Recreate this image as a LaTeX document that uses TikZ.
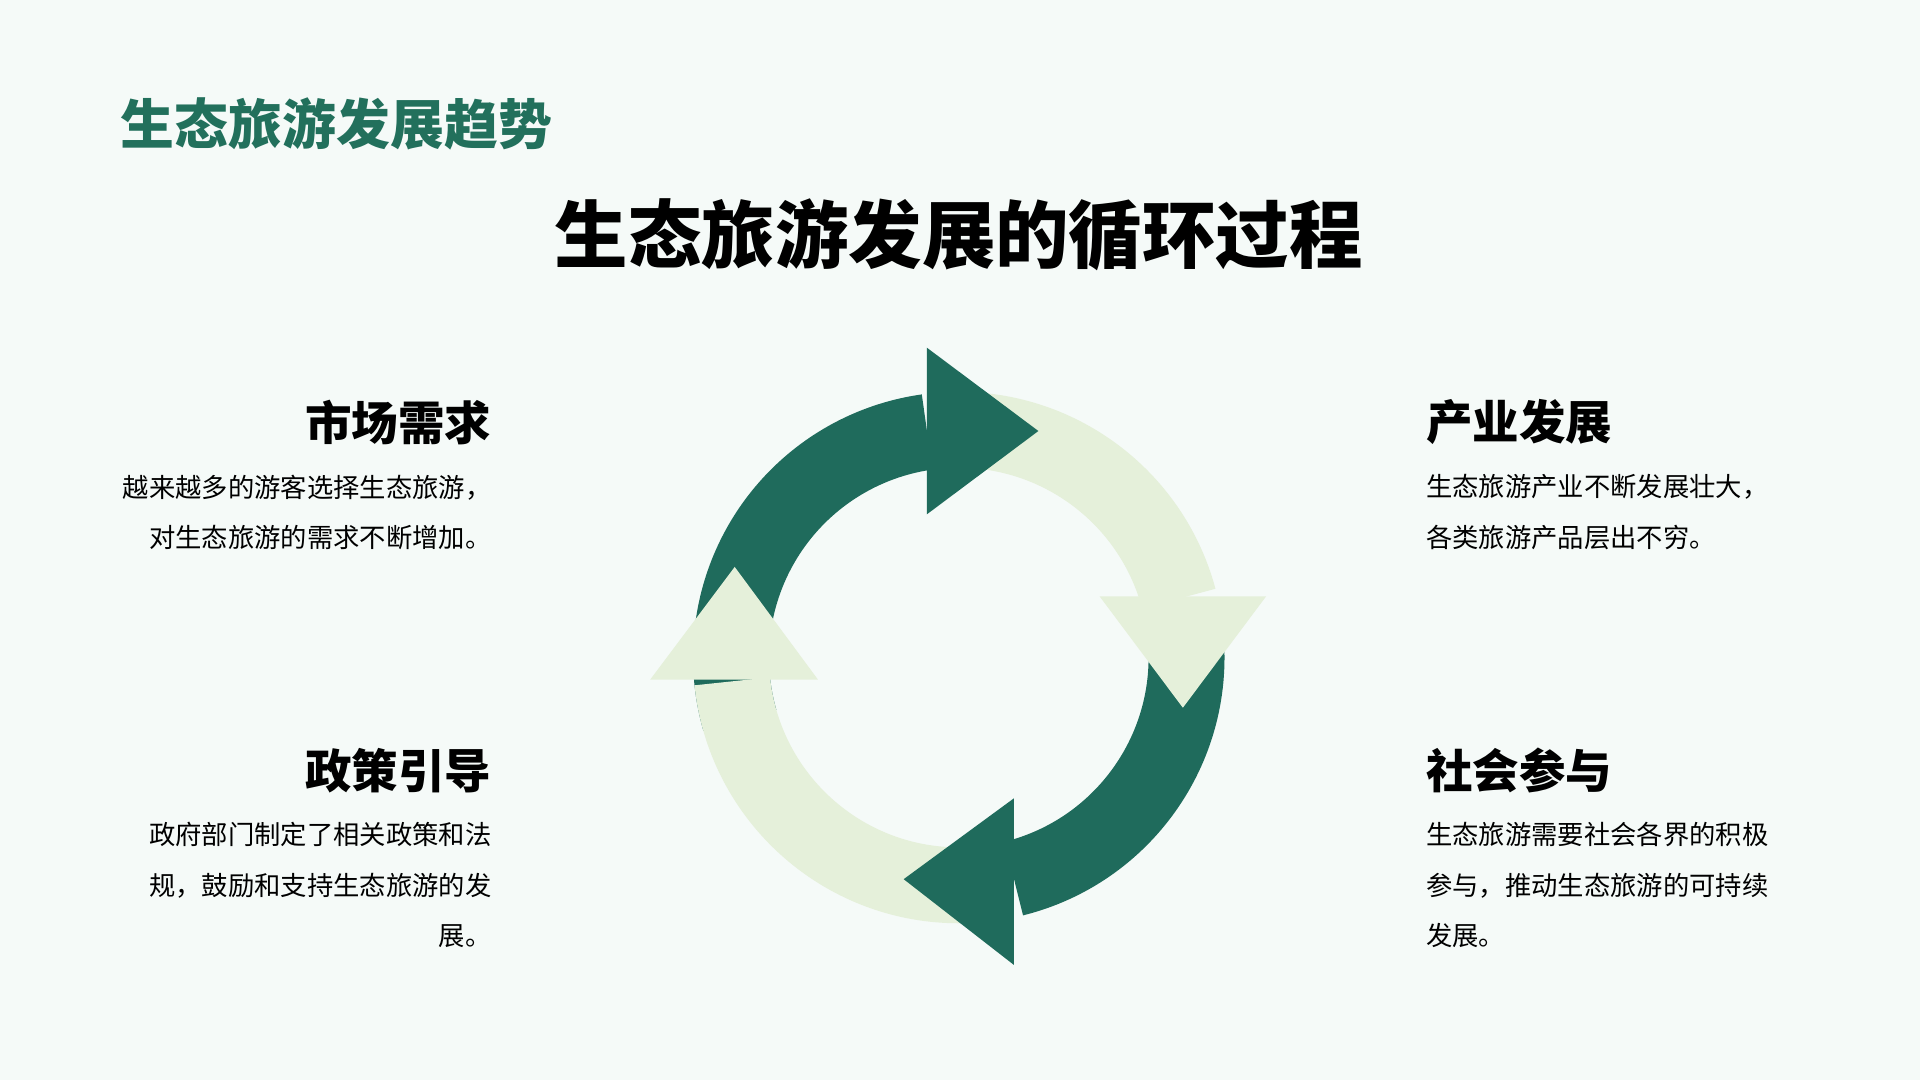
\documentclass[tikz,border=0pt]{standalone}
\usepackage{fontspec}
\setmainfont{Noto Sans CJK SC}
\usetikzlibrary{calc}
\definecolor{ecodark}{RGB}{31,107,92}
\definecolor{ecolight}{RGB}{229,240,218}
\definecolor{ecobg}{RGB}{245,250,248}
\definecolor{ecotitle}{RGB}{34,112,92}
\tikzset{every picture/.style={line width=0.75pt}}
\tikzset{
  headtxt/.style={font=\fontsize{38}{44}\selectfont\bfseries},
  bodytxt/.style={font=\fontsize{21.5}{41}\selectfont},
}
\begin{document}
\begin{tikzpicture}[x=1pt,y=1pt]
\useasboundingbox (0,0) rectangle (1568,882);
\fill[ecobg] (0,0) rectangle (1568,882);
\coordinate (c) at (783,345);

%titles
\node[anchor=west,text=ecotitle,font=\fontsize{44}{50}\selectfont\bfseries] (title) at (95,781) {生态旅游发展趋势};
\node[font=\fontsize{60}{66}\selectfont\bfseries] (main) at (783,690) {生态旅游发展的循环过程};

%arc bodies
\fill[ecodark] ($(c)+(196:217)$) arc (196:98:217) -- ($(c)+(98:155)$) arc (98:196:155) -- cycle;
\fill[ecodark] ($(c)+(5:217)$) arc (5:-76:217) -- ($(c)+(-76:155)$) arc (-76:5:155) -- cycle;
\fill[ecolight] ($(c)+(92:217)$) arc (92:15:217) -- ($(c)+(15:155)$) arc (15:92:155) -- cycle;
\fill[ecolight] ($(c)+(272:217)$) arc (272:186:217) -- ($(c)+(186:155)$) arc (186:272:155) -- cycle;

%arrow heads
\fill[ecolight] (898,395) -- (1034,395) -- (966,304) -- cycle;
\fill[ecolight] (531,327) -- (668,327) -- (600,419) -- cycle;
\fill[ecodark] (757,598) -- (757,462) -- (848,530) -- cycle;
\fill[ecodark] (828,230) -- (828,94) -- (738,164) -- cycle;

%left texts
\node[headtxt,anchor=east] (market) at (405,537) {市场需求};
\node[bodytxt,anchor=north east,align=right] (marketbody) at (405,498) {越来越多的游客选择生态旅游，\\对生态旅游的需求不断增加。};
\node[headtxt,anchor=east] (policy) at (405,253) {政策引导};
\node[bodytxt,anchor=north east,align=right] (policybody) at (405,214) {政府部门制定了相关政策和法\\规，鼓励和支持生态旅游的发\\展。};

%right texts
\node[headtxt,anchor=west] (industry) at (1161,537) {产业发展};
\node[bodytxt,anchor=north west,align=left] (industrybody) at (1161,498) {生态旅游产业不断发展壮大，\\各类旅游产品层出不穷。};
\node[headtxt,anchor=west] (society) at (1161,253) {社会参与};
\node[bodytxt,anchor=north west,align=left] (societybody) at (1161,214) {生态旅游需要社会各界的积极\\参与，推动生态旅游的可持续\\发展。};
\end{tikzpicture}
\end{document}
